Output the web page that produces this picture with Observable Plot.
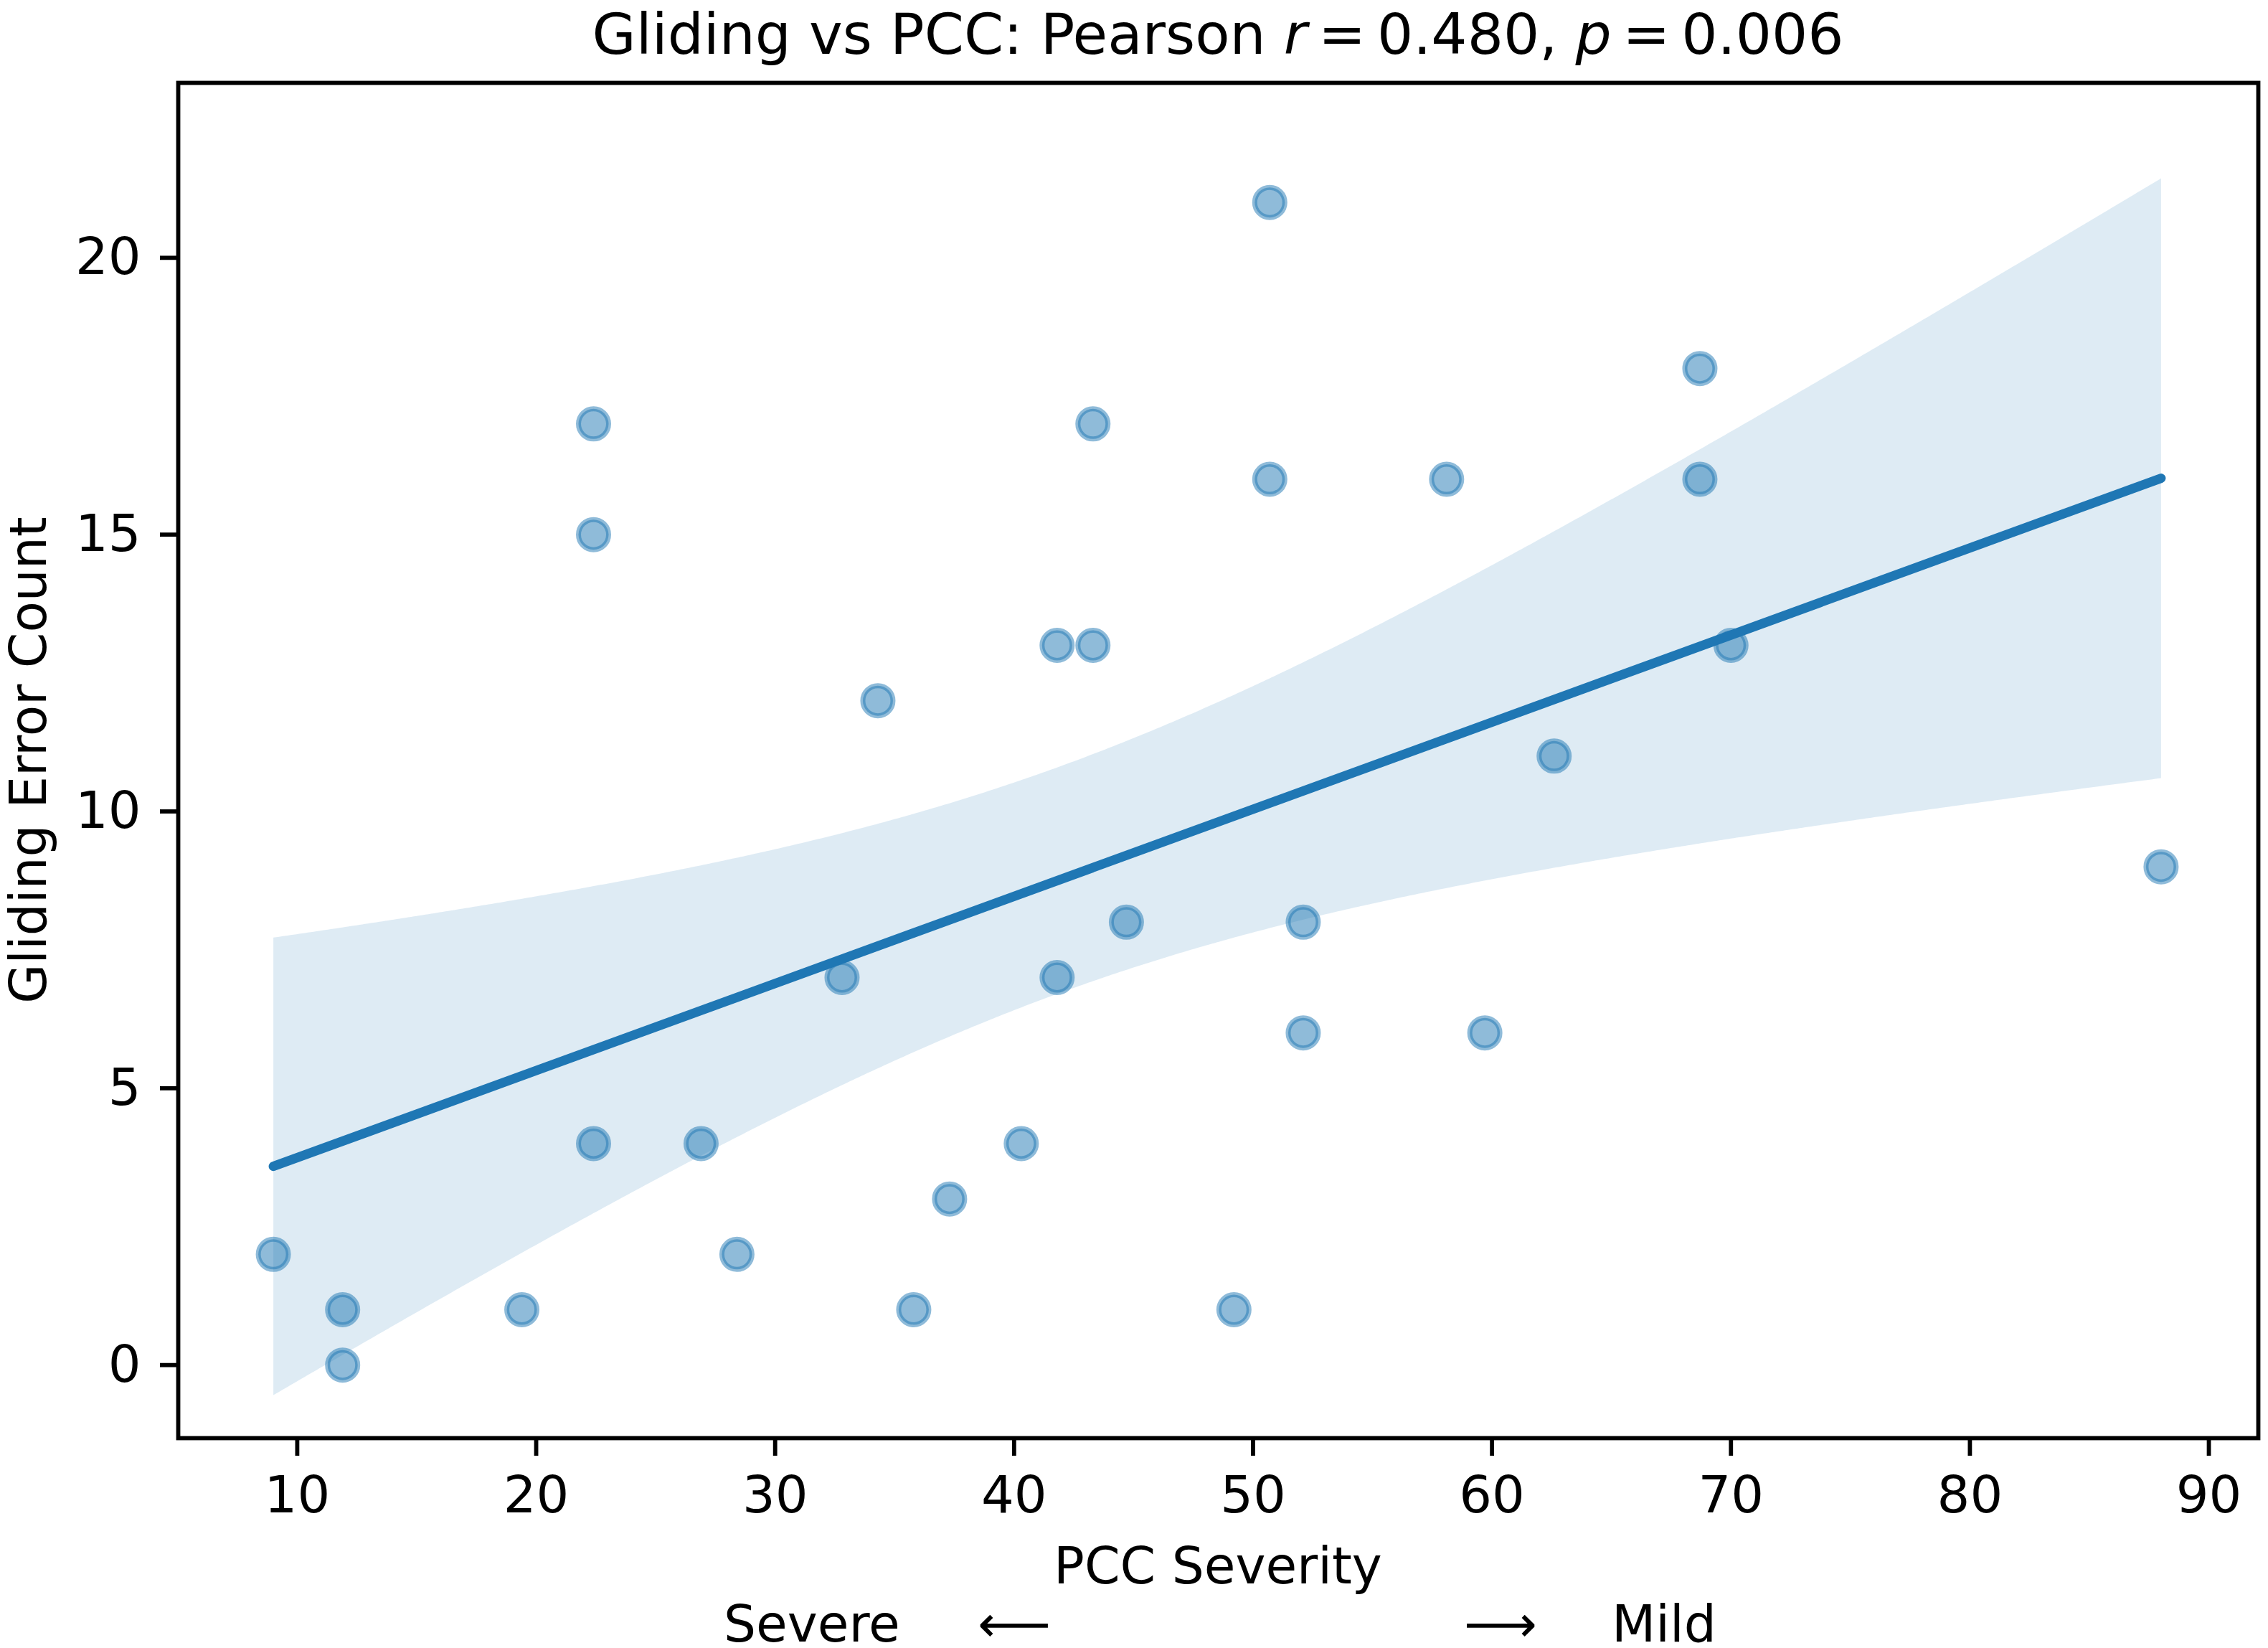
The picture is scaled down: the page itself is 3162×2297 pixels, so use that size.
<!DOCTYPE html>
<html>
<head>
<meta charset="utf-8">
<script src="https://cdn.jsdelivr.net/npm/d3@7"></script>
<script src="https://cdn.jsdelivr.net/npm/@observablehq/plot@0.6"></script>
<style>
  html, body { margin: 0; padding: 0; background: white; }
  #wrap { position: relative; width: 3162px; height: 2297px; overflow: hidden; font-family: "DejaVu Sans", sans-serif; }
  #wrap > svg { position: absolute; left: 0; top: 0; }
  #overlay { pointer-events: none; }
</style>
</head>
<body>
<div id="wrap"></div>
<script>
// PCC Severity (x) and Gliding Error Count (y)
const pccSeverity = [9.0, 11.9, 11.9, 19.4, 22.4, 22.4, 22.4, 26.9, 28.4, 32.8, 34.3, 35.8, 37.3, 40.3, 41.8, 41.8,
                     43.3, 43.3, 44.7, 49.2, 50.7, 50.7, 52.1, 52.1, 58.1, 59.7, 62.6, 68.7, 68.7, 70.0, 88.0];
const glidingErrors = [2, 1, 0, 1, 17, 15, 4, 4, 2, 7, 12, 1, 3, 4, 13, 7,
                       17, 13, 8, 1, 21, 16, 8, 6, 16, 6, 11, 18, 16, 13, 9];
const xTicks = [10, 20, 30, 40, 50, 60, 70, 80, 90];
const yTicks = [0, 5, 10, 15, 20];

const titleText = ["Gliding vs PCC: Pearson ", "r", "\u2009=\u20090.480, ", "p", "\u2009=\u20090.006"];
const xLabel = "PCC Severity";
const yLabel = "Gliding Error Count";
const directionLabels = ["Severe", "\u27F5", "\u27F6", "Mild"];

const data = pccSeverity.map((x, i) => ({x, y: glidingErrors[i]}));
const C0 = "#1f77b4";

const W = 3162, H = 2297;
const mL = 248, mR = 14, mT = 115, mB = 293;

const chart = Plot.plot({
  width: W,
  height: H,
  marginLeft: mL,
  marginRight: mR,
  marginTop: mT,
  marginBottom: mB,
  style: {fontFamily: "DejaVu Sans", fontSize: "72px", background: "white", color: "black", overflow: "visible"},
  x: {domain: [5.02, 92.07]},
  y: {domain: [-1.32, 23.16]},
  marks: [
    Plot.dot(data, {x: "x", y: "y", r: 21, fill: C0, fillOpacity: 0.5, stroke: C0, strokeOpacity: 0.5, strokeWidth: 7}),
    Plot.linearRegressionY(data, {x: "x", y: "y", stroke: C0, strokeWidth: 13, fill: C0, fillOpacity: 0.15, ci: 0.95}),
    Plot.axisX({ticks: xTicks, tickSize: 25, tickPadding: 27, fontSize: 72, strokeWidth: 5.8, label: null, tickFormat: d => String(d)}),
    Plot.axisY({ticks: yTicks, tickSize: 25, tickPadding: 27, fontSize: 72, strokeWidth: 5.8, label: null, tickFormat: d => String(d)}),
    Plot.frame({stroke: "black", strokeWidth: 5.8})
  ]
});

const wrap = document.getElementById("wrap");
wrap.appendChild(chart);

// Text overlay: title, axis labels, direction annotation
const NS = "http://www.w3.org/2000/svg";
const ov = document.createElementNS(NS, "svg");
ov.setAttribute("id", "overlay");
ov.setAttribute("width", W);
ov.setAttribute("height", H);
ov.setAttribute("font-family", "DejaVu Sans");
wrap.appendChild(ov);

function addText(str, x, y, size, anchor, rotate) {
  const t = document.createElementNS(NS, "text");
  t.setAttribute("x", x);
  t.setAttribute("y", y);
  t.setAttribute("font-size", size);
  t.setAttribute("text-anchor", anchor);
  t.setAttribute("fill", "black");
  if (rotate) t.setAttribute("transform", `rotate(${rotate} ${x} ${y})`);
  if (Array.isArray(str)) {
    str.forEach((s, i) => {
      const ts = document.createElementNS(NS, "tspan");
      ts.textContent = s;
      if (i % 2 === 1) ts.setAttribute("font-style", "italic");
      t.appendChild(ts);
    });
    t.setAttribute("style", "white-space: pre");
  } else {
    t.textContent = str;
  }
  ov.appendChild(t);
  return t;
}

const cx = mL + (W - mL - mR) / 2;
const cy = mT + (H - mT - mB) / 2;
addText(titleText, cx, 75, 79, "middle");
addText(xLabel, cx, 2207, 71, "middle");
addText(yLabel, 64, cy, 71, "middle", -90);
addText(directionLabels[0], 1009, 2288, 71, "start");
addText(directionLabels[1], 1414, 2288, 71, "middle");
addText(directionLabels[2], 2092, 2288, 71, "middle");
addText(directionLabels[3], 2247, 2288, 71, "start");
</script>
</body>
</html>
